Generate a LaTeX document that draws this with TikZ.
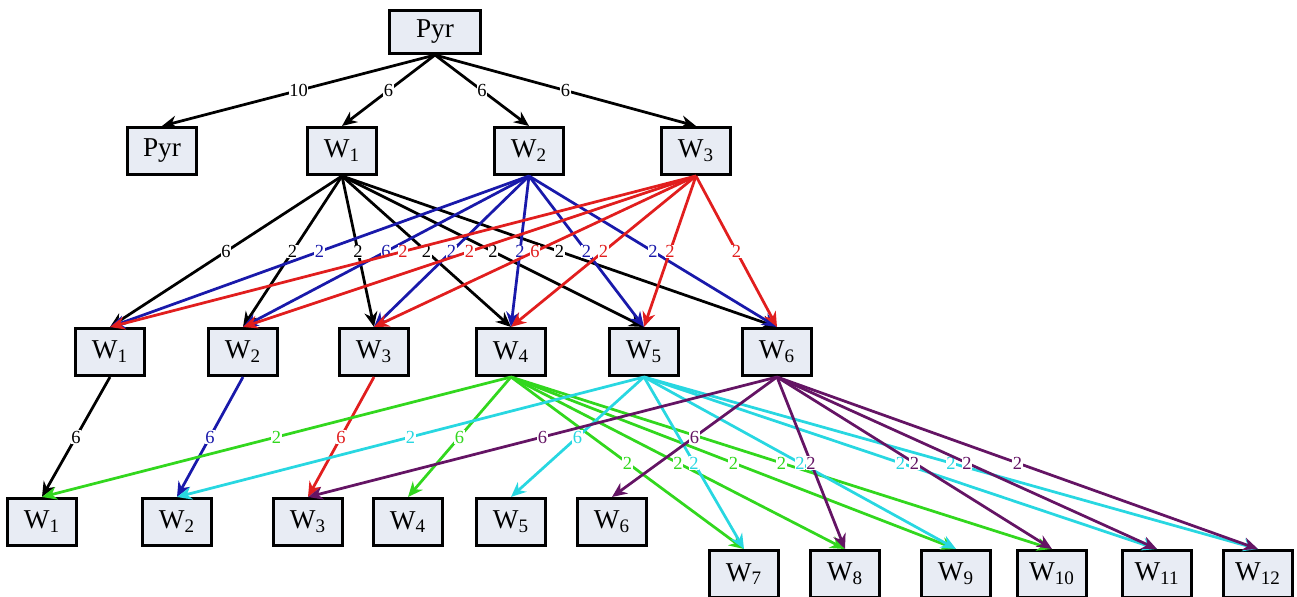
\documentclass[tikz,border=0pt]{standalone}
\usepackage{fontspec}
\setmainfont{Liberation Serif}
\usetikzlibrary{arrows.meta}

\definecolor{boxfill}{RGB}{232,236,244}
\definecolor{wblue}{RGB}{25,25,170}
\definecolor{wred}{RGB}{225,30,30}
\definecolor{wgreen}{RGB}{50,215,30}
\definecolor{wcyan}{RGB}{40,215,225}
\definecolor{wpurple}{RGB}{100,20,100}

\begin{document}
\begin{tikzpicture}[x=0.2mm,y=-0.2mm,
  wbox/.style={draw,line width=0.6mm,fill=boxfill,minimum width=13.8mm,
    minimum height=9.4mm,inner sep=0pt,font=\fontsize{15.5}{18}\selectfont},
  edge/.style={line width=0.55mm,-{Stealth[length=3mm,width=2.6mm]}},
  wt/.style={midway,fill=white,inner sep=0.4pt,font=\fontsize{10.5}{12}\selectfont}]
  \useasboundingbox (0,0) rectangle (1297,597);

  % nodes
  \node[wbox,minimum width=18.2mm,minimum height=8.6mm] (pyr) at (435,32) {Pyr};
  \node[wbox] (p1) at (162,151) {Pyr};
  \node[wbox] (a1) at (342,151) {W\textsubscript{1}};
  \node[wbox] (a2) at (529,151) {W\textsubscript{2}};
  \node[wbox] (a3) at (696,151) {W\textsubscript{3}};
  \node[wbox] (b1) at (110,352) {W\textsubscript{1}};
  \node[wbox] (b2) at (243,352) {W\textsubscript{2}};
  \node[wbox] (b3) at (374,352) {W\textsubscript{3}};
  \node[wbox] (b4) at (511,352) {W\textsubscript{4}};
  \node[wbox] (b5) at (644,352) {W\textsubscript{5}};
  \node[wbox] (b6) at (777,352) {W\textsubscript{6}};
  \node[wbox] (c1) at (42,522) {W\textsubscript{1}};
  \node[wbox] (c2) at (177,522) {W\textsubscript{2}};
  \node[wbox] (c3) at (308,522) {W\textsubscript{3}};
  \node[wbox] (c4) at (408,522) {W\textsubscript{4}};
  \node[wbox] (c5) at (511,522) {W\textsubscript{5}};
  \node[wbox] (c6) at (612,522) {W\textsubscript{6}};
  \node[wbox] (c7) at (744,574) {W\textsubscript{7}};
  \node[wbox] (c8) at (845,574) {W\textsubscript{8}};
  \node[wbox] (c9) at (956,574) {W\textsubscript{9}};
  \node[wbox] (c10) at (1052,574) {W\textsubscript{10}};
  \node[wbox] (c11) at (1157,574) {W\textsubscript{11}};
  \node[wbox] (c12) at (1258,574) {W\textsubscript{12}};

  % first level
  \draw[edge] (pyr.south) -- (p1.north) node[wt] {10};
  \draw[edge] (pyr.south) -- (a1.north) node[wt] {6};
  \draw[edge] (pyr.south) -- (a2.north) node[wt] {6};
  \draw[edge] (pyr.south) -- (a3.north) node[wt] {6};

  % second level
  \draw[edge] (a1.south) -- (b1.north) node[wt] {6};
  \draw[edge] (a1.south) -- (b2.north) node[wt] {2};
  \draw[edge] (a1.south) -- (b3.north) node[wt] {2};
  \draw[edge] (a1.south) -- (b4.north) node[wt] {2};
  \draw[edge] (a1.south) -- (b5.north) node[wt] {2};
  \draw[edge] (a1.south) -- (b6.north) node[wt] {2};
  \draw[edge,wblue] (a2.south) -- (b1.north) node[wt] {2};
  \draw[edge,wblue] (a2.south) -- (b2.north) node[wt] {6};
  \draw[edge,wblue] (a2.south) -- (b3.north) node[wt] {2};
  \draw[edge,wblue] (a2.south) -- (b4.north) node[wt] {2};
  \draw[edge,wblue] (a2.south) -- (b5.north) node[wt] {2};
  \draw[edge,wblue] (a2.south) -- (b6.north) node[wt] {2};
  \draw[edge,wred] (a3.south) -- (b1.north) node[wt] {2};
  \draw[edge,wred] (a3.south) -- (b2.north) node[wt] {2};
  \draw[edge,wred] (a3.south) -- (b3.north) node[wt] {6};
  \draw[edge,wred] (a3.south) -- (b4.north) node[wt] {2};
  \draw[edge,wred] (a3.south) -- (b5.north) node[wt] {2};
  \draw[edge,wred] (a3.south) -- (b6.north) node[wt] {2};

  % third level
  \draw[edge] (b1.south) -- (c1.north) node[wt] {6};
  \draw[edge,wblue] (b2.south) -- (c2.north) node[wt] {6};
  \draw[edge,wred] (b3.south) -- (c3.north) node[wt] {6};
  \draw[edge,wgreen] (b4.south) -- (c1.north) node[wt] {2};
  \draw[edge,wgreen] (b4.south) -- (c4.north) node[wt] {6};
  \draw[edge,wgreen] (b4.south) -- (c7.north) node[wt] {2};
  \draw[edge,wgreen] (b4.south) -- (c8.north) node[wt] {2};
  \draw[edge,wgreen] (b4.south) -- (c9.north) node[wt] {2};
  \draw[edge,wgreen] (b4.south) -- (c10.north) node[wt] {2};
  \draw[edge,wcyan] (b5.south) -- (c2.north) node[wt] {2};
  \draw[edge,wcyan] (b5.south) -- (c5.north) node[wt] {6};
  \draw[edge,wcyan] (b5.south) -- (c7.north) node[wt] {2};
  \draw[edge,wcyan] (b5.south) -- (c9.north) node[wt] {2};
  \draw[edge,wcyan] (b5.south) -- (c11.north) node[wt] {2};
  \draw[edge,wcyan] (b5.south) -- (c12.north) node[wt] {2};
  \draw[edge,wpurple] (b6.south) -- (c3.north) node[wt] {6};
  \draw[edge,wpurple] (b6.south) -- (c6.north) node[wt] {6};
  \draw[edge,wpurple] (b6.south) -- (c8.north) node[wt] {2};
  \draw[edge,wpurple] (b6.south) -- (c10.north) node[wt] {2};
  \draw[edge,wpurple] (b6.south) -- (c11.north) node[wt] {2};
  \draw[edge,wpurple] (b6.south) -- (c12.north) node[wt] {2};
\end{tikzpicture}
\end{document}
